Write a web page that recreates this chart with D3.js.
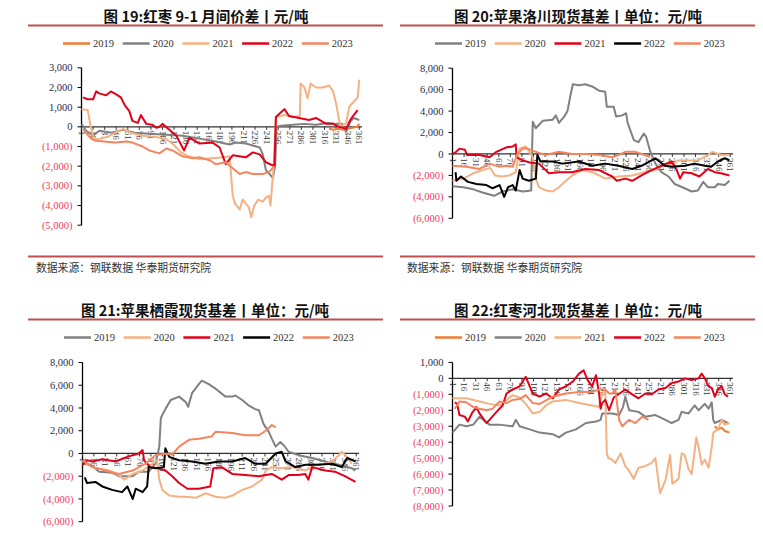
<!DOCTYPE html>
<html>
<head>
<meta charset="utf-8">
<script src="https://cdn.jsdelivr.net/npm/d3@7"></script>
<style>
  body { margin: 0; background: #fff; }
  svg { display: block; }
</style>
</head>
<body>
<svg id="chart" width="763" height="535"></svg>
<script>
// ---- data: [day, value] pairs ----
var years = ['2019', '2020', '2021', '2022', '2023'];
var dayTicks = [1, 16, 31, 46, 61, 76, 91, 106, 121, 136, 151, 166, 181, 196, 211, 226, 241, 256, 271, 286, 301, 316, 331, 346, 361];

// fig 19: jujube 9-1 spread
var p19_2019 = [[322,-100],[328,-150],[334,-100],[340,-150],[346,-100],[352,-50],[358,0],[361,150]];
var p19_2020 = [[1,150],[7,-200],[16,-450],[24,-200],[40,-300],[55,-150],[70,-300],[89,-350],[111,-400],[132,-450],[154,-600],[175,-750],[193,-900],[201,-800],[214,-850],[223,-950],[232,-1050],[236,-1400],[240,-2200],[247,-2500],[249,-2600],[252,-2000],[254,0],[260,50],[275,100],[290,150],[305,100],[320,200],[331,150],[339,150],[344,-250],[350,300],[354,450],[361,350]];
var p19_2021 = [[1,900],[9,850],[13,0],[17,-650],[25,-600],[35,-500],[45,-300],[55,-100],[65,-300],[80,-450],[95,-500],[110,-600],[120,-900],[130,-1300],[140,-1500],[155,-1650],[170,-1600],[185,-1550],[193,-1500],[197,-3500],[200,-3900],[206,-4200],[210,-3700],[214,-3900],[218,-4100],[221,-4600],[225,-4000],[230,-3700],[236,-3800],[240,-3600],[244,-3500],[246,-4000],[248,-3000],[250,-2100],[253,500],[265,600],[275,500],[284,550],[285,2200],[290,2000],[294,1450],[298,2200],[305,2000],[314,2000],[322,2100],[327,1800],[331,1200],[335,300],[338,0],[344,200],[348,1000],[352,1200],[357,1400],[359,1500],[361,2400]];
var p19_2022 = [[3,1500],[9,1400],[16,1400],[20,1800],[24,1700],[33,1600],[39,1800],[46,1650],[52,1500],[57,1100],[63,800],[67,300],[74,200],[78,600],[85,150],[93,100],[98,-50],[102,0],[106,150],[124,-450],[134,-1200],[141,-550],[154,-850],[171,-800],[180,-1050],[188,-1900],[197,-1450],[214,-1550],[223,-1300],[232,-1400],[240,-1800],[251,-2000],[253,500],[264,900],[270,550],[283,450],[296,350],[305,450],[318,150],[327,150],[335,0],[344,-100],[348,250],[352,500],[359,850]];
var p19_2023 = [[3,-100],[11,-500],[18,-700],[30,-750],[45,-800],[59,-750],[67,-800],[80,-1000],[89,-1200],[102,-1350],[111,-1100],[119,-1200],[132,-1500],[145,-1600],[154,-1550],[167,-1700],[175,-1900],[188,-1800],[197,-2100],[206,-2400],[214,-2300],[223,-2400],[236,-2400],[244,-2300],[251,-2000]];

// fig 20: apple Luochuan basis
var p20_2019 = [[1,-3000],[15,-3100],[28,-3300],[40,-3600],[55,-3900],[66,-3500],[79,-3300],[92,-3500],[103,-3400],[105,3000],[109,2400],[118,3100],[131,3200],[135,3600],[139,2900],[146,3500],[150,4000],[154,5500],[157,6500],[165,6400],[173,6500],[182,6300],[191,5900],[199,5800],[201,4400],[210,4400],[213,3500],[221,3600],[226,3800],[228,2900],[236,1300],[242,1100],[249,1900],[252,1600],[257,300],[264,-900],[272,-1700],[281,-2100],[289,-2800],[302,-3200],[311,-3500],[319,-3400],[326,-2600],[332,-3100],[341,-3100],[345,-2800],[354,-2900],[360,-2500]];
var p20_2020 = [[1,-2500],[15,-2300],[28,-1800],[40,-1500],[50,-1300],[56,-2000],[65,-2100],[75,-2000],[83,-1700],[88,500],[96,700],[105,-300],[110,-2500],[113,-3100],[122,-3400],[131,-3500],[139,-3100],[148,-2500],[156,-2000],[169,-1500],[182,-1700],[191,-2000],[199,-2300],[216,-2100],[234,-2000],[250,-1700],[264,-1500],[276,-900],[285,-1100],[293,-600],[306,-600],[319,-600],[332,-100],[338,200],[349,-100],[360,-100]];
var p20_2021 = [[1,0],[4,100],[10,500],[17,400],[20,-100],[36,-100],[49,-300],[58,200],[70,600],[79,700],[83,900],[84,-300],[92,-600],[101,-800],[113,-900],[126,-1800],[139,-1700],[156,-1700],[173,-1400],[191,-1500],[208,-2100],[214,-2500],[225,-2300],[234,-2500],[246,-2000],[259,-1500],[272,-1100],[285,-700],[291,-1400],[296,-2300],[300,-1700],[311,-1800],[321,-2100],[332,-1400],[341,-1700],[349,-1800],[360,-2000]];
var p20_2022 = [[5,-1700],[6,-2500],[12,-2100],[21,-2600],[32,-2800],[45,-2900],[53,-3200],[62,-2900],[68,-4000],[73,-3100],[79,-2900],[83,-3400],[88,-1500],[92,-2300],[100,-2500],[109,-2300],[111,-100],[115,-700],[131,-700],[143,-900],[165,-700],[182,-1100],[199,-900],[216,-1100],[234,-1400],[246,-1100],[264,-400],[276,-1100],[285,-1200],[302,-1100],[315,-900],[328,-1100],[336,-1200],[345,-700],[354,-400],[360,-600]];
var p20_2023 = [[1,-1100],[19,-1200],[36,-1400],[49,-900],[62,-1200],[70,-1100],[79,-1200],[85,0],[92,500],[98,500],[105,300],[113,100],[122,-100],[139,200],[156,0],[173,0],[191,-100],[208,-300],[216,-100],[225,200],[238,200],[250,-100],[257,-300]];

// fig 21: apple Qixia basis
var p21_2019 = [[1,-900],[12,-1000],[23,-1600],[40,-1700],[49,-2000],[67,-2000],[75,-1600],[88,-1600],[97,-900],[102,600],[104,3100],[106,3400],[110,3900],[117,4700],[128,5000],[137,4500],[140,4100],[145,5300],[154,6100],[158,6400],[167,6100],[176,5700],[189,5000],[198,5000],[202,5100],[211,4700],[220,4200],[228,3900],[233,3800],[239,2600],[246,1900],[250,1300],[255,600],[261,1000],[266,700],[272,150],[285,-150],[303,-400],[320,-700],[338,-1000],[355,-1300],[360,-1500]];
var p21_2020 = [[1,-700],[14,-1200],[36,-1500],[49,-1900],[56,-2300],[67,-1800],[80,-1500],[93,-900],[99,-600],[102,-2300],[106,-3200],[115,-3700],[128,-3800],[137,-3800],[150,-3900],[163,-3500],[176,-3800],[189,-3900],[198,-3700],[211,-3200],[224,-2900],[237,-2300],[242,-1500],[250,-1200],[263,-1300],[276,-1200],[294,-1500],[307,-1000],[320,-900],[329,-700],[338,-150],[342,150],[349,-300],[355,-900]];
var p21_2021 = [[1,-1000],[7,-600],[14,-700],[27,-500],[45,-700],[56,-400],[67,-150],[75,0],[80,300],[82,-600],[90,-1200],[100,-1300],[110,-1500],[119,-2000],[128,-2600],[139,-3100],[154,-3100],[169,-2900],[173,-1300],[184,-1200],[198,-1800],[215,-1900],[233,-2000],[250,-1800],[263,-2300],[272,-1900],[285,-1900],[294,-1800],[298,-2300],[303,-1200],[320,-1500],[333,-1600],[346,-2000],[360,-2500]];
var p21_2022 = [[4,-2100],[7,-2600],[18,-2500],[27,-2900],[40,-3200],[53,-3400],[60,-2900],[67,-4000],[71,-3100],[80,-3400],[86,-2900],[88,-1200],[97,-1300],[108,-1200],[110,450],[115,-300],[128,-600],[145,-700],[163,-900],[180,-700],[198,-700],[215,-400],[228,-900],[242,-900],[255,0],[263,150],[268,-700],[281,-1200],[294,-1000],[311,-1000],[329,-900],[342,-1200],[349,-400],[360,-700]];
var p21_2023 = [[1,-600],[14,-1200],[31,-1500],[49,-1800],[67,-1500],[84,-900],[97,-150],[110,0],[119,-100],[128,600],[141,1200],[154,1300],[171,1500],[176,1900],[198,1800],[215,1600],[233,1600],[242,2000],[250,2500],[255,2300]];

// fig 22: jujube Hebei basis
var p22_2019 = [[341,-3000],[345,-3200],[350,-3100],[354,-3300],[360,-3400]];
var p22_2020 = [[1,-3400],[10,-2900],[19,-3000],[28,-2900],[36,-2400],[41,-2600],[49,-2900],[62,-2900],[79,-3000],[83,-2600],[88,-3000],[101,-3200],[114,-3400],[131,-3500],[139,-3700],[148,-3400],[161,-3200],[174,-2800],[187,-2700],[193,-2600],[195,-2200],[208,-2200],[217,-2300],[222,-1800],[225,-1150],[230,-2000],[242,-2100],[251,-2400],[264,-2300],[277,-2600],[285,-2800],[294,-2600],[298,-2100],[307,-2200],[315,-1700],[320,-2000],[328,-1600],[333,-1900],[337,-1500],[339,-2600],[341,-2800],[350,-2600],[358,-2800]];
var p22_2021 = [[1,-1250],[19,-1250],[36,-1450],[49,-1600],[62,-1700],[70,-1400],[79,-1050],[88,-1200],[96,-1600],[105,-2200],[114,-2100],[122,-1700],[131,-1450],[148,-1350],[165,-1550],[182,-1700],[191,-1800],[195,-950],[199,-700],[201,-4700],[203,-5000],[208,-5100],[212,-5300],[219,-4700],[225,-5500],[230,-5800],[236,-6300],[242,-5600],[251,-5500],[259,-5300],[264,-5000],[270,-7200],[277,-6400],[283,-4800],[286,-6600],[294,-6300],[298,-4700],[302,-4800],[307,-5700],[311,-6000],[315,-4500],[317,-3700],[320,-4300],[324,-5400],[328,-5100],[333,-5600],[337,-4300],[339,-3400],[345,-3200],[350,-2600],[354,-2900],[360,-2800]];
var p22_2022 = [[4,-1500],[7,-1600],[10,-2300],[17,-2400],[21,-2700],[26,-2200],[32,-1800],[36,-2200],[45,-2800],[49,-2600],[58,-2100],[66,-1700],[71,-950],[79,-700],[88,-500],[96,100],[105,-950],[114,-1150],[122,-950],[131,-1250],[139,-700],[148,-500],[157,-200],[165,300],[171,500],[176,-100],[182,-500],[187,200],[191,-950],[193,-1900],[195,-1550],[199,-1350],[204,-2000],[210,-1200],[225,-700],[234,-1000],[242,-1250],[251,-950],[259,-1000],[268,-700],[277,-600],[285,-300],[294,-200],[302,0],[311,-100],[320,0],[324,300],[328,0],[333,-500],[337,-600],[341,-1150],[345,-700],[350,-500],[354,-1000],[358,-1150]];
var p22_2023 = [[4,-1900],[10,-1450],[19,-1500],[28,-1800],[36,-1900],[45,-2000],[53,-1900],[62,-1450],[71,-1550],[79,-1350],[88,-1300],[96,-1050],[105,-1550],[114,-1600],[131,-1150],[148,-950],[165,-850],[182,-850],[191,-700],[199,-700],[204,-950],[208,-950],[212,-700],[217,-2600],[221,-3000],[230,-2600],[238,-2800],[247,-2400],[255,-2600]];

var ticks19 = [3000, 2000, 1000, 0, -1000, -2000, -3000, -4000, -5000];
var ticks20 = [8000, 6000, 4000, 2000, 0, -2000, -4000, -6000];
var ticks22 = [1000, 0, -1000, -2000, -3000, -4000, -5000, -6000, -7000, -8000];

var ORANGE = '#ED7D31', GRAY = '#808080', PEACH = '#F4B183', RED = '#E3001B', BLACK = '#000000', SALMON = '#F4855F';

var svg = d3.select('#chart');
var cjk = '"Noto Sans CJK SC", "Noto Sans", sans-serif';
var serif = '"Liberation Serif", "DejaVu Serif", serif';

function fmt(v) {
    if (v === 0) return '0';
    var s = d3.format(',')(Math.abs(v));
    return v < 0 ? '(' + s + ')' : s;
}

function drawPanel(p) {
    var g = svg.append('g');

    // title and rule
    g.append('text')
        .attr('x', p.titleX).attr('y', p.top + 22)
        .attr('text-anchor', 'middle')
        .style('font-family', cjk).style('font-weight', 'bold').style('font-size', '14.5px')
        .attr('fill', '#111')
        .text(p.title);
    g.append('line')
        .attr('x1', p.ruleX1).attr('x2', p.ruleX2)
        .attr('y1', p.top + 25.5).attr('y2', p.top + 25.5)
        .attr('stroke', '#C0504D').attr('stroke-width', 2);

    // legend
    var leg = g.selectAll('.leg').data(p.series).enter().append('g')
        .attr('transform', function(d, i) { return 'translate(' + (p.legX + i * 59.7) + ',' + (p.top + 43.5) + ')'; });
    leg.append('line').attr('x1', 0).attr('x2', 27).attr('y1', 0).attr('y2', 0)
        .attr('stroke', function(d) { return d.color; }).attr('stroke-width', 2.5);
    leg.append('text').attr('x', 30).attr('y', 3.6)
        .style('font-family', serif).style('font-size', '10.5px').attr('fill', '#333')
        .text(function(d) { return d.name; });

    var x = d3.scaleLinear().domain([1, 362]).range([p.x0, p.x1]);
    var y = d3.scaleLinear().domain(p.yDomain).range(p.yRange);

    // y axis
    g.append('line').attr('x1', p.x0).attr('x2', p.x0)
        .attr('y1', y(p.yDomain[0])).attr('y2', y(p.yDomain[1]))
        .attr('stroke', '#000').attr('stroke-width', 1.3);
    var yt = g.selectAll('.yt').data(p.ticks).enter().append('g')
        .attr('transform', function(d) { return 'translate(' + p.x0 + ',' + y(d) + ')'; });
    yt.append('line').attr('x1', -4).attr('x2', 0).attr('stroke', '#000');
    yt.append('text').attr('x', -9).attr('y', 3.6).attr('text-anchor', 'end')
        .style('font-family', serif).style('font-size', '10.5px')
        .attr('fill', function(d) { return d < 0 ? '#F23A5C' : '#1F2D4F'; })
        .text(fmt);

    // x axis at zero
    var y0 = y(0);
    g.append('line').attr('x1', p.x0).attr('x2', p.x1 + 2)
        .attr('y1', y0).attr('y2', y0).attr('stroke', '#333').attr('stroke-width', 1.2);
    var xt = g.selectAll('.xt').data(dayTicks).enter().append('g')
        .attr('transform', function(d) { return 'translate(' + x(d) + ',' + y0 + ')'; });
    xt.append('line').attr('y1', 0).attr('y2', 3).attr('stroke', '#333');
    xt.append('text').attr('transform', 'translate(-3,4) rotate(90)')
        .style('font-family', serif).style('font-size', '9px').attr('fill', '#333')
        .text(function(d) { return d; });

    // series
    var line = d3.line()
        .x(function(d) { return x(d[0]); })
        .y(function(d) { return y(d[1]); });
    p.series.forEach(function(s) {
        g.append('path').datum(s.data)
            .attr('d', line)
            .attr('fill', 'none')
            .attr('stroke', s.color)
            .attr('stroke-width', 2)
            .attr('stroke-linejoin', 'round');
    });

    // footer
    if (p.footer) {
        g.append('line').attr('x1', p.ruleX1).attr('x2', p.ruleX2)
            .attr('y1', 256.5).attr('y2', 256.5)
            .attr('stroke', '#C0504D').attr('stroke-width', 2);
        g.append('text').attr('x', p.footX).attr('y', 272)
            .style('font-family', cjk).style('font-size', '10.8px').attr('fill', '#333')
            .text('数据来源：钢联数据 华泰期货研究院');
    }
}

drawPanel({
    top: 0, title: '图 19:红枣 9-1 月间价差丨元/吨', titleX: 206, ruleX1: 28, ruleX2: 383,
    legX: 63, x0: 81.5, x1: 360, yDomain: [-5000, 3000], yRange: [225.2, 67.8], ticks: ticks19,
    footer: true, footX: 36,
    series: [
        { name: years[0], color: ORANGE, data: p19_2019 },
        { name: years[1], color: GRAY, data: p19_2020 },
        { name: years[2], color: PEACH, data: p19_2021 },
        { name: years[3], color: RED, data: p19_2022 },
        { name: years[4], color: SALMON, data: p19_2023 }
    ]
});

drawPanel({
    top: 0, title: '图 20:苹果洛川现货基差丨单位：元/吨', titleX: 578, ruleX1: 400, ruleX2: 755,
    legX: 435, x0: 452.5, x1: 731, yDomain: [-6000, 8000], yRange: [218.3, 68.2], ticks: ticks20,
    footer: true, footX: 407,
    series: [
        { name: years[0], color: GRAY, data: p20_2019 },
        { name: years[1], color: PEACH, data: p20_2020 },
        { name: years[2], color: RED, data: p20_2021 },
        { name: years[3], color: BLACK, data: p20_2022 },
        { name: years[4], color: SALMON, data: p20_2023 }
    ]
});

drawPanel({
    top: 294, title: '图 21:苹果栖霞现货基差丨单位：元/吨', titleX: 205, ruleX1: 28, ruleX2: 383,
    legX: 64, x0: 82.5, x1: 357, yDomain: [-6000, 8000], yRange: [521.7, 362.5], ticks: ticks20,
    footer: false,
    series: [
        { name: years[0], color: GRAY, data: p21_2019 },
        { name: years[1], color: PEACH, data: p21_2020 },
        { name: years[2], color: RED, data: p21_2021 },
        { name: years[3], color: BLACK, data: p21_2022 },
        { name: years[4], color: SALMON, data: p21_2023 }
    ]
});

drawPanel({
    top: 294, title: '图 22:红枣河北现货基差丨单位：元/吨', titleX: 578, ruleX1: 400, ruleX2: 755,
    legX: 435, x0: 452.5, x1: 731, yDomain: [-8000, 1000], yRange: [506, 362.4], ticks: ticks22,
    footer: false,
    series: [
        { name: years[0], color: ORANGE, data: p22_2019 },
        { name: years[1], color: GRAY, data: p22_2020 },
        { name: years[2], color: PEACH, data: p22_2021 },
        { name: years[3], color: RED, data: p22_2022 },
        { name: years[4], color: SALMON, data: p22_2023 }
    ]
});
</script>
</body>
</html>
